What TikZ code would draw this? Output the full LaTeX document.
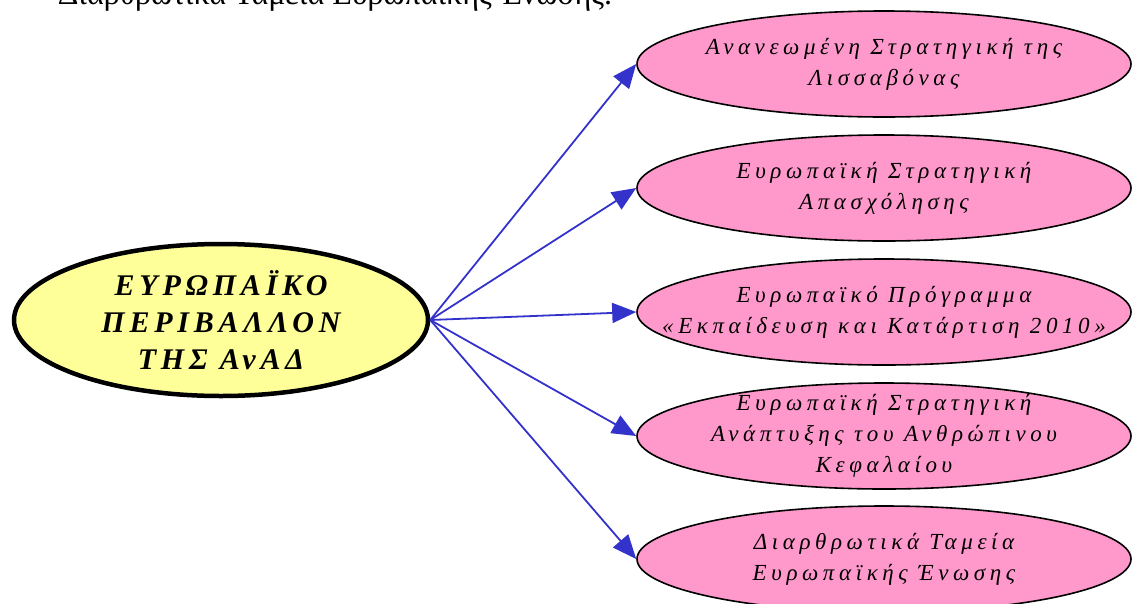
\documentclass[tikz,border=0pt]{standalone}
\usepackage{fontspec}
\setmainfont{Liberation Serif}
\newfontfamily\spacedit[LetterSpace=20]{Liberation Serif}
\newfontfamily\spacedbf[LetterSpace=16]{Liberation Serif}
\usetikzlibrary{shapes.geometric,arrows.meta}
\definecolor{pinkfill}{HTML}{FF99CC}
\definecolor{yellowfill}{HTML}{FFFF99}
\definecolor{arrowblue}{HTML}{3333CC}
\tikzset{
  central/.style={ellipse, draw=black, line width=4.5pt, fill=yellowfill,
    minimum width=414pt, minimum height=152pt, inner xsep=-40pt, inner ysep=0pt, align=center,
    font=\fontsize{30}{37}\spacedbf\bfseries\itshape},
  topic/.style={ellipse, draw=black, line width=1.6pt, fill=pinkfill,
    minimum width=494pt, minimum height=106pt, inner xsep=-60pt, inner ysep=-10pt, align=center,
    font=\fontsize{23}{31}\spacedit\itshape},
  link/.style={draw=arrowblue, line width=1.8pt,
    -{Triangle[length=24pt,width=20pt]}},
  caption/.style={font=\fontsize{32}{36}\selectfont, anchor=base, inner sep=0pt}
}
\begin{document}
\begin{tikzpicture}[x=1pt,y=-1pt]
\useasboundingbox (0,0) rectangle (1132,603);
\clip (0,0) rectangle (1132,603);
\node[caption] (cap) at (335,4) {Διαρθρωτικά Ταμεία Ευρωπαϊκής Ένωσης.};
\node[central] (c) at (221,320) {ΕΥΡΩΠΑΪΚΟ\\ΠΕΡΙΒΑΛΛΟΝ\\ΤΗΣ ΑνΑΔ};
\node[topic] (e1) at (884,64) {Ανανεωμένη Στρατηγική της\\Λισσαβόνας};
\node[topic] (e2) at (884,188) {Ευρωπαϊκή Στρατηγική\\Απασχόλησης};
\node[topic] (e3) at (884,312) {Ευρωπαϊκό Πρόγραμμα\\«Εκπαίδευση και Κατάρτιση 2010»};
\node[topic] (e4) at (884,436) {Ευρωπαϊκή Στρατηγική\\Ανάπτυξης του Ανθρώπινου\\Κεφαλαίου};
\node[topic] (e5) at (884,559) {Διαρθρωτικά Ταμεία\\Ευρωπαϊκής Ένωσης};
\foreach \e in {e1,e2,e3,e4,e5}
  \draw[link] (c.east) -- (\e.west);
\end{tikzpicture}
\end{document}
